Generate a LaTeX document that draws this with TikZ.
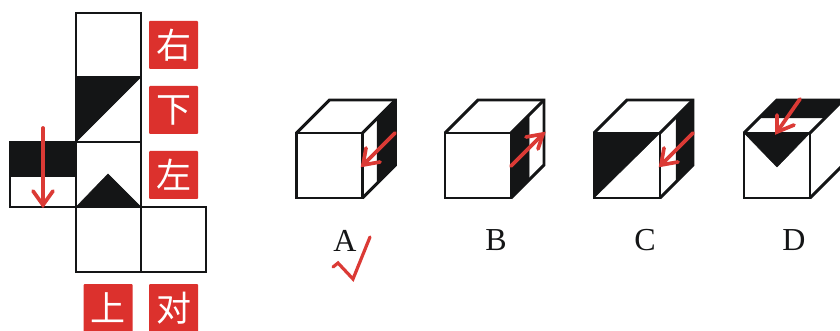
\documentclass[tikz,border=0pt]{standalone}
\usepackage{fontspec}
\setmainfont{Liberation Serif}
\newfontfamily\cjk{Noto Sans CJK SC}
\definecolor{ink}{HTML}{141516}
\definecolor{lab}{HTML}{DC312D}
\definecolor{arr}{HTML}{DB3A35}
\tikzset{
  edge/.style={draw=ink,line width=2.9pt,line join=miter},
  fillk/.style={fill=ink,draw=ink,line width=0.5pt,line join=round},
  tag/.style={fill=lab,rounded corners=1pt,minimum width=49pt,minimum height=48pt,inner sep=0pt,text=white,font=\cjk\fontsize{35}{35}\selectfont},
  optlabel/.style={font=\fontsize{32}{32}\selectfont,text=ink,inner sep=0pt},
  redline/.style={draw=arr,line width=3.7pt,line cap=round,line join=miter}
}
% #1 = x of the left side of the front face
\newcommand{\cubeframe}[1]{%
  \draw[edge] (#1,133) rectangle ++(66,65);
  \draw[edge] (#1,133) -- ++(33,-33) -- ++(66,0) -- ++(0,65) -- (#1+66,198);
  \draw[edge] (#1+66,133) -- ++(33,-33);
}
\begin{document}
\begin{tikzpicture}[x=1pt,y=-1pt]
\useasboundingbox (0,0) rectangle (840,331);
\clip (0,0) rectangle (840,331);
\fill[white] (0,0) rectangle (840,331);
% net
\fill[fillk] (76,77) -- (141,77) -- (76,142) -- cycle;
\fill[fillk] (76,207) -- (141,207) -- (108,174) -- cycle;
\fill[fillk] (10,142) rectangle (76,176);
\draw[edge] (76,13) rectangle (141,77);
\draw[edge] (76,77) rectangle (141,142);
\draw[edge] (76,142) rectangle (141,207);
\draw[edge] (76,207) rectangle (141,272);
\draw[edge] (141,207) rectangle (206,272);
\draw[edge] (10,142) rectangle (76,207);
\draw[redline] (43,128) -- (43,205);
\draw[redline] (33,191) -- (43,205) -- (53,191);
% tags
\node[tag] (right) at (173.5,45) {右};
\node[tag] (down) at (173.5,110) {下};
\node[tag] (left) at (173.5,175) {左};
\node[tag] (up) at (108,308) {上};
\node[tag] (opp) at (173.5,308) {对};
% cube A
\fill[fillk] (377,118) -- (396,100) -- (396,165) -- (377,183) -- cycle;
\cubeframe{296.5}
\draw[redline] (395,133) -- (363,165);
\draw[redline] (366,148) -- (363,165) -- (380,162);
% cube B
\fill[fillk] (511,133) -- (529,115) -- (529,180) -- (511,198) -- cycle;
\cubeframe{445}
\draw[redline] (511,166) -- (543,134);
\draw[redline] (526,137) -- (543,134) -- (538,149);
% cube C
\fill[fillk] (594,133) -- (660,133) -- (594,198) -- cycle;
\fill[fillk] (676,117) -- (693,100) -- (693,165) -- (676,182) -- cycle;
\cubeframe{594}
\draw[redline] (693,133) -- (661,165);
\draw[redline] (664,148) -- (661,165) -- (678,162);
% cube D
\fill[fillk] (777,100) -- (843,100) -- (825,118) -- (759,118) -- cycle;
\fill[fillk] (744,133) -- (810,133) -- (777,167) -- cycle;
\cubeframe{744}
\draw[redline] (800,99) -- (777,132);
\draw[redline] (777,115) -- (777,132) -- (794,125);
% option letters
\node[optlabel] (la) at (345,240.5) {A};
\node[optlabel] (lb) at (496,240.5) {B};
\node[optlabel] (lc) at (645,240.5) {C};
\node[optlabel] (ld) at (794,240.5) {D};
% tick
\draw[redline,line width=3.2pt] (333,267) -- (338,263) -- (353,279) -- (370,237);
\end{tikzpicture}
\end{document}
